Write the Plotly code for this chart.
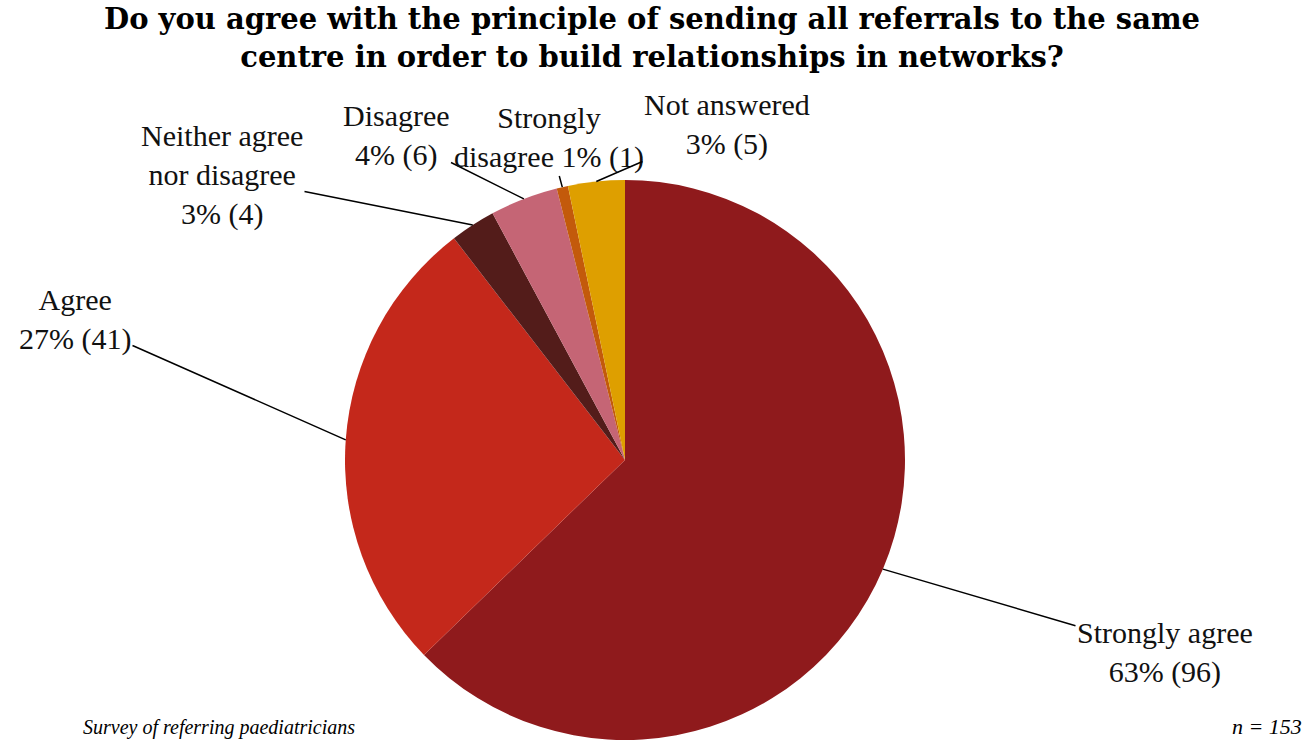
import math
import plotly.graph_objects as go

categories = ["Strongly agree", "Agree", "Neither agree<br>nor disagree", "Disagree",
              "Strongly<br>disagree", "Not answered"]
counts = [96, 41, 4, 6, 1, 5]
slice_colors = ["#8F1A1C", "#C4281B", "#531C1A", "#C56575", "#C35A0B", "#DE9F00"]

title_text = ("Do you agree with the principle of sending all referrals to the same<br>"
              "centre in order to build relationships in networks?")
n_text = "n = 153"
source_text = "Survey of referring paediatricians"

# label block centres (pixels from top-left) – layout only
label_pos = [(1165, 652), (75, 320), (222, 175), (396, 135), (549, 138), (727, 125)]
label_sep = ["<br>", "<br>", "<br>", "<br>", " ", "<br>"]

W, H = 1307, 741
CX, CY, R = 625, 460, 280  # pie placement in pixels

total = sum(counts)
pct = [round(100 * v / total) for v in counts]
text_labels = [f"{c}{s}{p}% ({v})" for c, s, p, v in zip(categories, label_sep, pct, counts)]

fig = go.Figure(go.Pie(
    labels=categories,
    values=counts,
    textinfo="none",
    sort=False,
    direction="clockwise",
    rotation=0,
    automargin=False,
    marker=dict(colors=slice_colors, line=dict(width=0)),
    showlegend=False,
    hoverinfo="label+value+percent",
    domain=dict(x=[(CX - R) / W, (CX + R) / W], y=[1 - (CY + R) / H, 1 - (CY - R) / H]),
))

font_serif = "Liberation Serif, Georgia, serif"
annotations = []
cum = 0
for txt, v, (lx, ly) in zip(text_labels, counts, label_pos):
    mid = (cum + v / 2) / total * 2 * math.pi
    cum += v
    tx = CX + R * math.sin(mid)
    ty = CY - R * math.cos(mid)
    annotations.append(dict(
        text=txt, x=tx / W, y=1 - ty / H, xref="paper", yref="paper",
        ax=lx - tx, ay=ly - ty, showarrow=True, arrowhead=0, arrowwidth=1.5,
        arrowcolor="#000000", align="center",
        font=dict(family=font_serif, size=30, color="#111111"),
    ))

annotations += [
    dict(text="<b>" + title_text + "</b>", x=652 / W, y=1.0, xref="paper", yref="paper",
         xanchor="center", yanchor="top", showarrow=False, align="center",
         font=dict(family="DejaVu Serif, serif", size=29, color="#000000")),
    dict(text="<i>" + n_text + "</i>", x=1304 / W, y=0.0, xref="paper", yref="paper",
         xanchor="right", yanchor="bottom", showarrow=False,
         font=dict(family=font_serif, size=22, color="#000000")),
    dict(text="<i>" + source_text + "</i>", x=357 / W, y=0.0, xref="paper", yref="paper",
         xanchor="right", yanchor="bottom", showarrow=False,
         font=dict(family=font_serif, size=20, color="#000000")),
]

fig.update_layout(
    width=W, height=H,
    margin=dict(l=0, r=0, t=0, b=0, autoexpand=False),
    paper_bgcolor="white",
    plot_bgcolor="white",
    annotations=annotations,
)

fig.write_html("out.html", config={"displayModeBar": False},
               post_script="document.body.style.margin='0';document.body.style.overflow='hidden';")
